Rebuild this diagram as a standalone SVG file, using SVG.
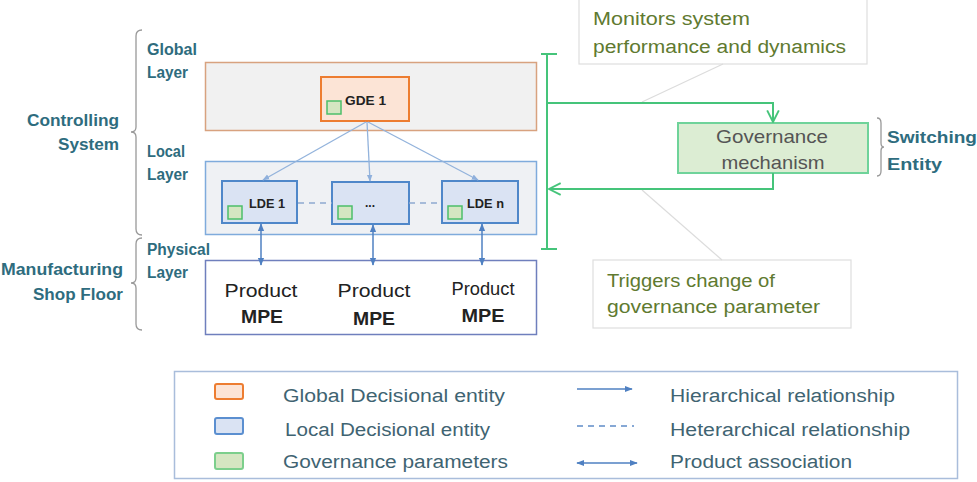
<svg xmlns="http://www.w3.org/2000/svg" width="977" height="482" viewBox="0 0 977 482">
<defs>
<style>
text{font-family:"Liberation Sans",Arial,sans-serif;}
.lab{font-weight:bold;fill:#2e6c7e;font-size:16px;}
.call{fill:#607a30;font-size:18px;}
.leg{fill:#3f6472;font-size:18px;}
.prod{fill:#222;font-size:19px;}
.mpe{fill:#222;font-size:19px;font-weight:bold;}
.de{fill:#222;font-size:12px;font-weight:bold;}
.gp{fill:#d5e6c2;stroke:#4cbf6a;stroke-width:1.5;}
.brace{fill:none;stroke:#999;stroke-width:1.3;}
.green{fill:none;stroke:#45c47a;stroke-width:2;}
.hier{stroke:#93b3dc;stroke-width:1.3;fill:none;}
.het{stroke:#8fa9cf;stroke-width:1.5;stroke-dasharray:6,5;fill:none;}
.assoc{stroke:#4f80c2;stroke-width:1.5;fill:none;}
.pointer{stroke:#dcdcdc;stroke-width:1.2;fill:none;}
</style>
<marker id="ah" viewBox="0 0 10 10" refX="9" refY="5" markerWidth="7" markerHeight="7" orient="auto-start-reverse" markerUnits="userSpaceOnUse">
<path d="M0,1 L10,5 L0,9 z" fill="#8fb0dc"/>
</marker>
<marker id="aa" viewBox="0 0 10 10" refX="9" refY="5" markerWidth="8" markerHeight="8" orient="auto-start-reverse" markerUnits="userSpaceOnUse">
<path d="M0,1 L10,5 L0,9 z" fill="#4f80c2"/>
</marker>
<marker id="ag" viewBox="0 0 12 12" refX="11" refY="6" markerWidth="14" markerHeight="14" orient="auto" markerUnits="userSpaceOnUse">
<path d="M1,1 L11,6 L1,11" fill="none" stroke="#45c47a" stroke-width="1.6"/>
</marker>
</defs>

<g id="braces">
<path class="brace" d="M142,30 Q136,30 136,36 L136,127 Q136,132 131,132 Q136,132 136,137 L136,229 Q136,235 142,235"/>
<path class="brace" d="M142,238 Q136,238 136,244 L136,278 Q136,283 131,283 Q136,283 136,288 L136,324 Q136,330 142,330"/>
<path class="brace" d="M877,118 Q881,118 881,123 L881,143 Q881,147 884,147 Q881,147 881,151 L881,171 Q881,176 877,176"/>
</g>

<g id="labels">
<text class="lab" x="119" y="126" text-anchor="end" textLength="92" lengthAdjust="spacingAndGlyphs">Controlling</text>
<text class="lab" x="119" y="150" text-anchor="end" textLength="61" lengthAdjust="spacingAndGlyphs">System</text>
<text class="lab" x="123" y="275" text-anchor="end" textLength="122" lengthAdjust="spacingAndGlyphs">Manufacturing</text>
<text class="lab" x="123" y="300" text-anchor="end" textLength="90" lengthAdjust="spacingAndGlyphs">Shop Floor</text>
<text class="lab" x="147" y="55" font-size="15" textLength="50" lengthAdjust="spacingAndGlyphs">Global</text>
<text class="lab" x="147" y="78" font-size="15" textLength="41" lengthAdjust="spacingAndGlyphs">Layer</text>
<text class="lab" x="147" y="157" font-size="15" textLength="38" lengthAdjust="spacingAndGlyphs">Local</text>
<text class="lab" x="147" y="180" font-size="15" textLength="41" lengthAdjust="spacingAndGlyphs">Layer</text>
<text class="lab" x="147" y="255" font-size="15" textLength="63" lengthAdjust="spacingAndGlyphs">Physical</text>
<text class="lab" x="147" y="278" font-size="15" textLength="41" lengthAdjust="spacingAndGlyphs">Layer</text>
</g>

<g id="global-layer">
<rect x="205.5" y="62.5" width="331" height="68" fill="#f1f1f1" stroke="#d8a27f" stroke-width="1.5"/>
</g>
<g id="local-layer">
<rect x="205.5" y="161.5" width="331" height="73" fill="#eff1f4" stroke="#7fabdc" stroke-width="1.5"/>
</g>
<g id="physical-layer">
<rect x="205.5" y="260.5" width="331" height="74" fill="#ffffff" stroke="#6f7fbd" stroke-width="1.5"/>
</g>

<g id="gde1">
<rect x="321" y="77" width="88" height="44" fill="#fce4d6" stroke="#ed7d31" stroke-width="2"/>
<rect class="gp" x="327" y="101" width="14" height="13"/>
<text class="de" x="345" y="105" textLength="41" lengthAdjust="spacingAndGlyphs">GDE 1</text>
</g>
<g id="lde1">
<rect x="222" y="181" width="75" height="42" fill="#dae3f3" stroke="#4f87c9" stroke-width="2"/>
<rect class="gp" x="228" y="206" width="14" height="13"/>
<text class="de" x="249" y="208" textLength="36" lengthAdjust="spacingAndGlyphs">LDE 1</text>
</g>
<g id="lde-dots">
<rect x="332" y="182" width="77" height="42" fill="#dae3f3" stroke="#4f87c9" stroke-width="2"/>
<rect class="gp" x="338" y="206" width="14" height="13"/>
<text class="de" x="365" y="207">...</text>
</g>
<g id="lden">
<rect x="442" y="181" width="76" height="42" fill="#dae3f3" stroke="#4f87c9" stroke-width="2"/>
<rect class="gp" x="448" y="206" width="14" height="13"/>
<text class="de" x="467" y="208" textLength="37" lengthAdjust="spacingAndGlyphs">LDE n</text>
</g>

<g id="mpe1">
<text class="prod" x="261" y="297" text-anchor="middle" textLength="73" lengthAdjust="spacingAndGlyphs">Product</text>
<text class="mpe" x="262" y="323" text-anchor="middle" textLength="42" lengthAdjust="spacingAndGlyphs">MPE</text>
</g>
<g id="mpe2">
<text class="prod" x="374" y="297" text-anchor="middle" textLength="73" lengthAdjust="spacingAndGlyphs">Product</text>
<text class="mpe" x="374" y="325" text-anchor="middle" textLength="42" lengthAdjust="spacingAndGlyphs">MPE</text>
</g>
<g id="mpe3">
<text class="prod" x="483" y="295" text-anchor="middle" font-size="17" textLength="63" lengthAdjust="spacingAndGlyphs">Product</text>
<text class="mpe" x="483" y="322" text-anchor="middle" textLength="43" lengthAdjust="spacingAndGlyphs">MPE</text>
</g>

<g id="governance">
<rect x="678" y="123" width="190" height="50" fill="#dcedd3" stroke="#6fd39a" stroke-width="2"/>
<text x="772" y="143" text-anchor="middle" fill="#555" font-size="19" textLength="112" lengthAdjust="spacingAndGlyphs">Governance</text>
<text x="773" y="169" text-anchor="middle" fill="#555" font-size="19" textLength="103" lengthAdjust="spacingAndGlyphs">mechanism</text>
</g>
<g id="switching-entity">
<text class="lab" x="887" y="143" font-size="18" textLength="90" lengthAdjust="spacingAndGlyphs">Switching</text>
<text class="lab" x="887" y="170" font-size="18" textLength="55" lengthAdjust="spacingAndGlyphs">Entity</text>
</g>

<g id="callout-monitors">
<rect x="579" y="-5" width="288" height="69" fill="#ffffff" stroke="#dedede" stroke-width="1.2"/>
<text class="call" x="593" y="25" textLength="157" lengthAdjust="spacingAndGlyphs">Monitors system</text>
<text class="call" x="593" y="53" textLength="253" lengthAdjust="spacingAndGlyphs">performance and dynamics</text>
</g>
<g id="callout-triggers">
<rect x="593" y="260" width="258" height="68" fill="#ffffff" stroke="#dedede" stroke-width="1.2"/>
<text class="call" x="607" y="287" textLength="168" lengthAdjust="spacingAndGlyphs">Triggers change of</text>
<text class="call" x="607" y="313" textLength="213" lengthAdjust="spacingAndGlyphs">governance parameter</text>
</g>

<g id="connectors">
<line class="pointer" x1="723" y1="64" x2="642" y2="102"/>
<line class="pointer" x1="642" y1="190" x2="722" y2="260"/>
<line class="hier" x1="366" y1="122" x2="263" y2="180" marker-end="url(#ah)"/>
<line class="hier" x1="367" y1="122" x2="370" y2="181" marker-end="url(#ah)"/>
<line class="hier" x1="368" y1="122" x2="478" y2="180" marker-end="url(#ah)"/>
<line class="het" x1="298" y1="203" x2="332" y2="203"/>
<line class="het" x1="409" y1="203" x2="442" y2="203"/>
<line class="assoc" x1="261" y1="224" x2="261" y2="265" marker-start="url(#aa)" marker-end="url(#aa)"/>
<line class="assoc" x1="373" y1="225" x2="373" y2="265" marker-start="url(#aa)" marker-end="url(#aa)"/>
<line class="assoc" x1="482" y1="224" x2="482" y2="265" marker-start="url(#aa)" marker-end="url(#aa)"/>
<path class="green" d="M547,54 L547,249 M541,54 L557,54 M541,249 L557,249"/>
<path class="green" d="M547,103 L773,103 L773,122" marker-end="url(#ag)"/>
<path class="green" d="M773,173 L773,189 L549,189" marker-end="url(#ag)"/>
</g>

<g id="legend">
<rect x="174.5" y="371.5" width="783" height="107" fill="#ffffff" stroke="#a9bddb" stroke-width="1.5"/>
<rect x="215" y="384" width="28" height="15" rx="2" fill="#fce4d6" stroke="#ed7d31" stroke-width="2"/>
<rect x="215" y="418" width="28" height="16" rx="2" fill="#dae3f3" stroke="#5b8fd0" stroke-width="2"/>
<rect x="215" y="453" width="28" height="16" rx="2" fill="#d5e6c2" stroke="#7ccf8c" stroke-width="2"/>
<text class="leg" x="283" y="402" textLength="222" lengthAdjust="spacingAndGlyphs">Global Decisional entity</text>
<text class="leg" x="285" y="436" textLength="205" lengthAdjust="spacingAndGlyphs">Local Decisional entity</text>
<text class="leg" x="283" y="468" textLength="225" lengthAdjust="spacingAndGlyphs">Governance parameters</text>
<line class="assoc" x1="577" y1="389" x2="632" y2="389" marker-end="url(#aa)"/>
<line class="het" x1="577" y1="426" x2="634" y2="426" style="stroke:#5f8cc8"/>
<line class="assoc" x1="577" y1="463" x2="637" y2="463" marker-start="url(#aa)" marker-end="url(#aa)"/>
<text class="leg" x="670" y="402" textLength="225" lengthAdjust="spacingAndGlyphs">Hierarchical relationship</text>
<text class="leg" x="670" y="436" textLength="240" lengthAdjust="spacingAndGlyphs">Heterarchical relationship</text>
<text class="leg" x="670" y="468" textLength="182" lengthAdjust="spacingAndGlyphs">Product association</text>
</g>
</svg>
